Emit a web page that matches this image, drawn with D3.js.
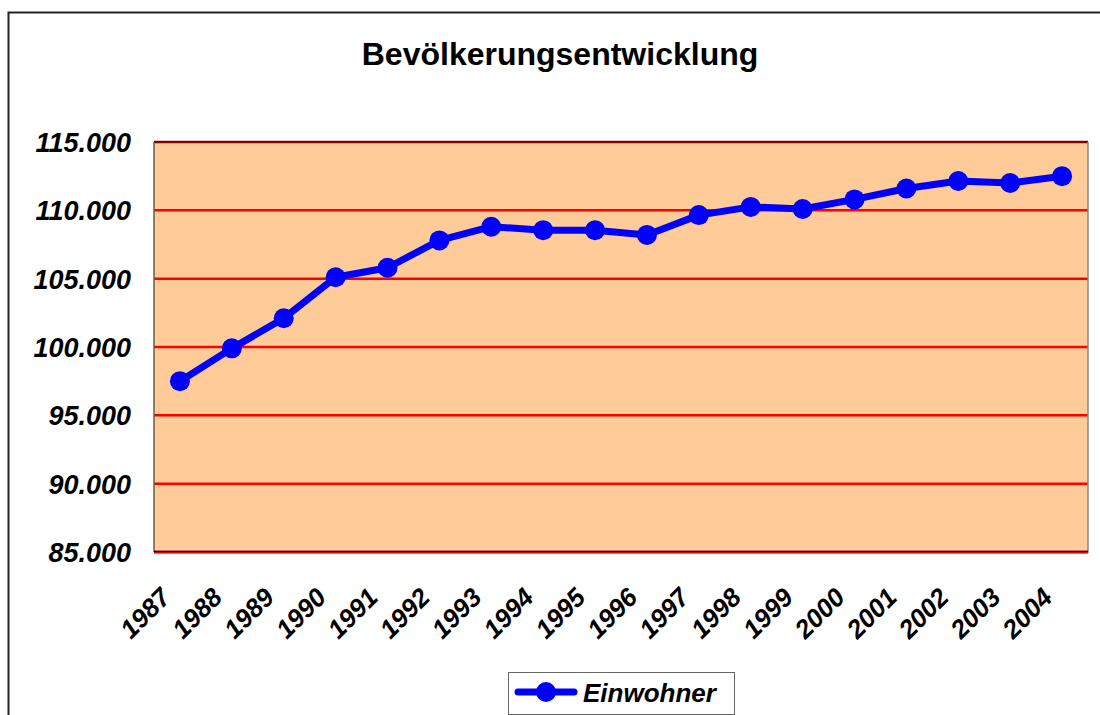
<!DOCTYPE html>
<html>
<head>
<meta charset="utf-8">
<script src="https://cdn.jsdelivr.net/npm/d3@7"></script>
<style>
  body { margin: 0; background: #fff; }
  svg { display: block; font-family: "Liberation Sans", Arial, sans-serif; }
</style>
</head>
<body>
<div id="chart-wrapper"></div>
<script>
const years = ["1987","1988","1989","1990","1991","1992","1993","1994","1995",
               "1996","1997","1998","1999","2000","2001","2002","2003","2004"];
const einwohner = [97500, 99900, 102100, 105100, 105800, 107800, 108800, 108550, 108550,
                   108200, 109650, 110250, 110100, 110800, 111600, 112150, 112000, 112500];
const yTicks = [85000, 90000, 95000, 100000, 105000, 110000, 115000];
const title = "Bevölkerungsentwicklung";
const seriesName = "Einwohner";

const width = 1100, height = 715;
const plot = { left: 154, right: 1088, top: 142, bottom: 552 };

const svg = d3.select("#chart-wrapper").append("svg")
    .attr("width", width).attr("height", height);

// outer chart frame (runs past the right and bottom edge)
svg.append("rect")
    .attr("x", 8.5).attr("y", 12.5)
    .attr("width", 1120).attr("height", 740)
    .attr("fill", "#fff").attr("stroke", "#222").attr("stroke-width", 2);

svg.append("text")
    .attr("x", 560).attr("y", 65)
    .attr("text-anchor", "middle")
    .attr("font-size", 32).attr("font-weight", "bold")
    .text(title);

const x = d3.scaleBand().domain(years).range([plot.left, plot.right]);
const y = d3.scaleLinear().domain([85000, 115000]).range([plot.bottom, plot.top]);

// plot area
svg.append("rect")
    .attr("x", plot.left).attr("y", plot.top)
    .attr("width", plot.right - plot.left).attr("height", plot.bottom - plot.top)
    .attr("fill", "#ffcc99");

// gridlines
svg.append("g")
    .selectAll("line")
    .data(yTicks)
    .join("line")
    .attr("x1", plot.left).attr("x2", plot.right)
    .attr("y1", d => y(d)).attr("y2", d => y(d))
    .attr("stroke", d => d === 115000 ? "#800000" : "#ff0000")
    .attr("stroke-width", 2.5);

// plot borders
svg.append("line")
    .attr("x1", plot.left).attr("x2", plot.left)
    .attr("y1", plot.top).attr("y2", plot.bottom)
    .attr("stroke", "#6b5a4a").attr("stroke-width", 1.5);
svg.append("line")
    .attr("x1", plot.right).attr("x2", plot.right)
    .attr("y1", plot.top).attr("y2", plot.bottom + 1)
    .attr("stroke", "#888").attr("stroke-width", 1.5);
svg.append("line")
    .attr("x1", plot.left).attr("x2", plot.right)
    .attr("y1", plot.bottom - 0.5).attr("y2", plot.bottom - 0.5)
    .attr("stroke", "#000").attr("stroke-width", 1.5);
svg.append("line")
    .attr("x1", plot.left).attr("x2", plot.right)
    .attr("y1", plot.bottom + 1).attr("y2", plot.bottom + 1)
    .attr("stroke", "#ff0000").attr("stroke-width", 1);

// y labels
const fmt = d => d3.format(",")(d).replace(/,/g, ".");
svg.append("g")
    .selectAll("text")
    .data(yTicks)
    .join("text")
    .attr("x", 131).attr("y", d => y(d) + 10)
    .attr("text-anchor", "end")
    .attr("font-size", 27).attr("font-weight", "bold").attr("font-style", "italic")
    .text(fmt);

// x labels
svg.append("g")
    .selectAll("text")
    .data(years)
    .join("text")
    .attr("text-anchor", "end")
    .attr("font-size", 26).attr("font-weight", "bold").attr("font-style", "italic")
    .attr("transform", d => `translate(${x(d) + x.bandwidth() / 2 - 8},${599}) rotate(-45)`)
    .text(d => d);

// series
const cx = d => x(d) + x.bandwidth() / 2;
const line = d3.line().x((d, i) => cx(years[i])).y(d => y(d));
svg.append("path")
    .datum(einwohner)
    .attr("d", line)
    .attr("fill", "none").attr("stroke", "#0000ff")
    .attr("stroke-width", 7).attr("stroke-linejoin", "round");
svg.append("g")
    .selectAll("circle")
    .data(einwohner)
    .join("circle")
    .attr("cx", (d, i) => cx(years[i])).attr("cy", d => y(d))
    .attr("r", 10).attr("fill", "#0000ff");

// legend
const lg = svg.append("g");
lg.append("rect")
    .attr("x", 508.5).attr("y", 672.5).attr("width", 226).attr("height", 42)
    .attr("fill", "#fff").attr("stroke", "#666").attr("stroke-width", 1);
lg.append("line")
    .attr("x1", 518).attr("x2", 574).attr("y1", 692).attr("y2", 692)
    .attr("stroke", "#0000ff").attr("stroke-width", 7).attr("stroke-linecap", "round");
lg.append("circle").attr("cx", 546).attr("cy", 692).attr("r", 10).attr("fill", "#0000ff");
lg.append("text")
    .attr("x", 583).attr("y", 702)
    .attr("font-size", 26).attr("font-weight", "bold").attr("font-style", "italic")
    .text(seriesName);
</script>
</body>
</html>
